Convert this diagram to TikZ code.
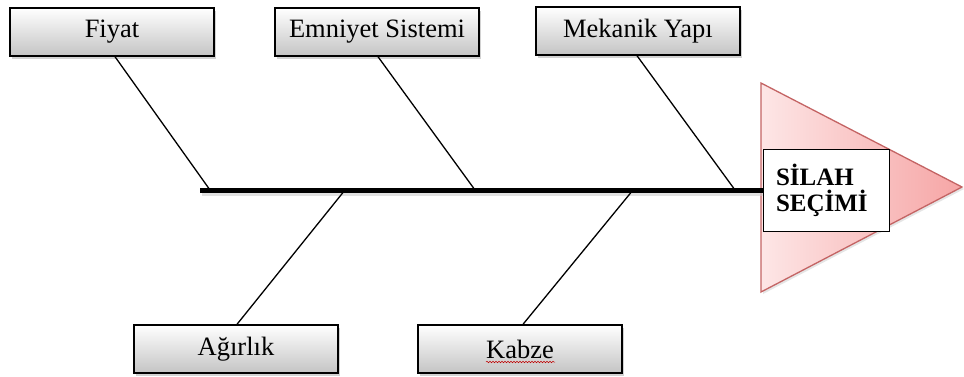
\documentclass[tikz,border=0pt]{standalone}
\usepackage{fontspec}
\setmainfont{Liberation Serif}
\usetikzlibrary{shadows,decorations.pathmorphing,calc}
\definecolor{triborder}{RGB}{196,100,100}
\definecolor{trileft}{RGB}{253,230,230}
\definecolor{triright}{RGB}{246,165,165}
\definecolor{boxbottom}{RGB}{196,196,196}
\begin{document}
\begin{tikzpicture}[x=1pt,y=-1pt,
  cause/.style={draw=black, line width=1.4pt, minimum width=204pt, minimum height=48pt,
    inner sep=0pt, top color=white, bottom color=boxbottom,
    drop shadow={shadow xshift=2pt,shadow yshift=-2.5pt,opacity=0.35},
    font=\fontsize{26.5}{30}\selectfont},
  bone/.style={line width=1.3pt},
  spine/.style={line width=5pt},
  effect/.style={draw=black, fill=white, line width=0.9pt, minimum width=126pt,
    minimum height=82pt, text width=100pt, align=left, inner xsep=13pt, inner ysep=0pt,
    font=\bfseries\fontsize{25}{26}\selectfont}]
\path[use as bounding box] (0,0) rectangle (964,376);
\fill[white] (0,0) rectangle (964,376);

% head triangle
\path[draw=triborder, line width=1.3pt, left color=trileft, right color=triright,
  drop shadow={shadow xshift=2pt,shadow yshift=-2pt,opacity=0.2}]
  (761,83) -- (962,187) -- (761,292) -- cycle;

% cause boxes
\node[cause] (fiyat)   at (112,32)  {Fiyat};
\node[cause] (emniyet) at (377,32)  {Emniyet Sistemi};
\node[cause] (mekanik) at (638,31)  {Mekanik Yapı};
\node[cause] (agirlik) at (236,349) {Ağırlık};
\node[cause] (kabze)   at (520,349) {Kabze};

% effect box
\node[effect] (silah) at (826,190) {SİLAH\\SEÇİMİ};

% spine
\coordinate (tail) at (200,190);
\draw[spine, black!20, opacity=0.6] ([shift={(2,3)}]tail) -- ([shift={(0,3)}]tail -| silah.west);
\draw[spine] (tail) -- (tail -| silah.west);

% points on spine
\coordinate (p1) at (210,190);
\coordinate (p2) at (475,190);
\coordinate (p3) at (735,190);
\coordinate (p4) at (345,190);
\coordinate (p5) at (633,190);

% bones
\draw[bone] ([xshift=3pt]fiyat.south) -- (p1);
\draw[bone] ([xshift=1pt]emniyet.south) -- (p2);
\draw[bone] ([xshift=-1pt]mekanik.south) -- (p3);
\draw[bone] ([xshift=1pt]agirlik.north) -- (p4);
\draw[bone] ([xshift=3pt]kabze.north) -- (p5);

% spell-check underline
\draw[red!75!black, line width=0.5pt, decorate,
  decoration={snake, amplitude=0.8pt, segment length=3pt}]
  ($(kabze.center)+(-34,13)$) -- ($(kabze.center)+(35,13)$);
\end{tikzpicture}
\end{document}
